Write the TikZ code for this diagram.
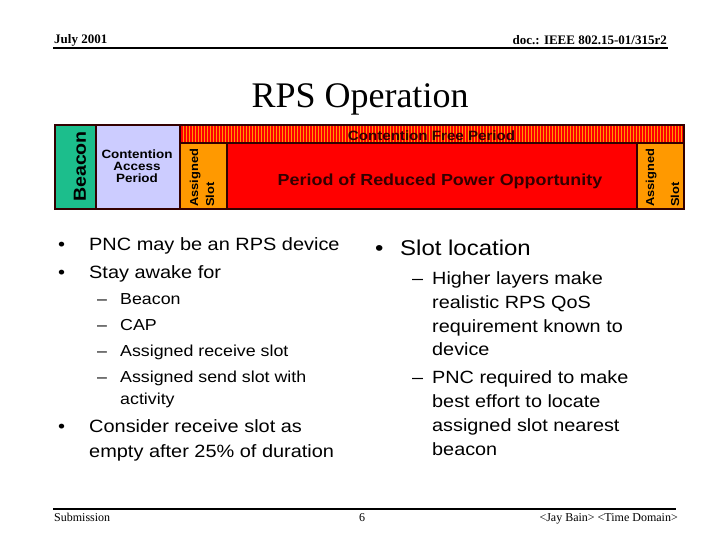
\documentclass[tikz,border=0pt]{standalone}
\usepackage{fontspec}
\setmainfont{Liberation Serif}
\newfontfamily\arialx[FakeStretch=1.12]{Liberation Sans}
\definecolor{beaconc}{RGB}{28,190,140}
\definecolor{capc}{RGB}{204,204,255}
\definecolor{orangec}{RGB}{255,153,0}
\definecolor{redc}{RGB}{255,0,0}
\definecolor{borderc}{RGB}{51,0,0}
\begin{document}
\begin{tikzpicture}[x=1pt,y=-1pt,
  hdr/.style={font=\fontsize{13}{15}\selectfont\bfseries, inner sep=0},
  ftr/.style={font=\fontsize{12}{14}\selectfont, inner sep=0},
  bd/.style={draw=borderc, line width=1.5},
  rot/.style={rotate=90, anchor=base west, inner sep=0, font=\arialx\bfseries\fontsize{11.5}{13}\selectfont},
  capt/.style={anchor=base, inner sep=0, font=\arialx\bfseries\fontsize{12}{13}\selectfont},
  lm/.style={anchor=base west, inner sep=0, font=\arialx\fontsize{17.8}{20}\selectfont},
  ls/.style={anchor=base west, inner sep=0, font=\arialx\fontsize{15.9}{18}\selectfont},
  rm/.style={anchor=base west, inner sep=0, font=\arialx\fontsize{21.4}{24}\selectfont},
  rs/.style={anchor=base west, inner sep=0, font=\arialx\fontsize{17.7}{20}\selectfont}]
\useasboundingbox (0,0) rectangle (720,540);

% header
\node[hdr, anchor=base west] (date) at (54,44) {July 2001};
\node[hdr, anchor=base east] (doc) at (667,45) {doc.: IEEE 802.15-01/315r2};
\draw[line width=2] (53,48.5) -- (668,48.5);
\node[font=\fontsize{36}{40}\selectfont, anchor=base, inner sep=0] (title) at (360,108) {RPS Operation};

% superframe bar
\fill[beaconc] (55,125) rectangle (96,209);
\fill[capc] (96,125) rectangle (180,209);
\fill[orangec] (180,125) rectangle (684,143);
\foreach \i in {0,...,167} \fill[redc] ({181+3*\i},125) rectangle ++(1.5,18);
\fill[orangec] (180,143) rectangle (227,209);
\fill[redc] (227,143) rectangle (637,209);
\fill[orangec] (637,143) rectangle (684,209);
\draw[bd] (55,125) rectangle (684,209);
\draw[bd] (96,125) -- (96,209);
\draw[bd] (180,125) -- (180,209);
\draw[bd] (180,143) -- (684,143);
\draw[bd] (227,143) -- (227,209);
\draw[bd] (637,143) -- (637,209);

\node[rotate=90, inner sep=0, font=\arialx\bfseries\fontsize{17.5}{19}\selectfont] (beacon) at (80,166.5) {Beacon};
\node[capt] (cap1) at (137,158.5) {Contention};
\node[capt] (cap2) at (137,170.5) {Access};
\node[capt] (cap3) at (137,182.5) {Period};
\node[rot] (asl1) at (198,207) {Assigned};
\node[rot] (asl2) at (214,207) {Slot};
\node[rot] (asr1) at (654,207) {Assigned};
\node[rot] (asr2) at (679,207) {Slot};
\node[anchor=base, inner sep=0, text=borderc, font=\arialx\bfseries\fontsize{13.5}{15}\selectfont] (cfp) at (431.5,140.5) {Contention Free Period};
\node[anchor=base, inner sep=0, text=borderc, font=\arialx\bfseries\fontsize{16}{18}\selectfont] (prpo) at (440,186) {Period of Reduced Power Opportunity};

% left column
\node[lm] (b1) at (58,250.5) {•};
\node[lm] (t1) at (89,250.5) {PNC may be an RPS device};
\node[lm] (b2) at (58,278) {•};
\node[lm] (t2) at (89,278) {Stay awake for};
\node[ls] (d1) at (97,304.7) {–};
\node[ls] (s1) at (120,304.7) {Beacon};
\node[ls] (d2) at (97,330.7) {–};
\node[ls] (s2) at (120,330.7) {CAP};
\node[ls] (d3) at (97,356.7) {–};
\node[ls] (s3) at (120,356.7) {Assigned receive slot};
\node[ls] (d4) at (97,382.7) {–};
\node[ls] (s4) at (120,382.7) {Assigned send slot with};
\node[ls] (s4b) at (120,404.5) {activity};
\node[lm] (b3) at (58,432) {•};
\node[lm] (t3) at (89,432) {Consider receive slot as};
\node[lm] (t3b) at (89,457) {empty after 25\% of duration};

% right column
\node[rm] (rb1) at (375,255.5) {•};
\node[rm] (rt1) at (400,255.5) {Slot location};
\node[rs] (rd1) at (412,284) {–};
\node[rs] (r1) at (432,284) {Higher layers make};
\node[rs] (r2) at (432,308) {realistic RPS QoS};
\node[rs] (r3) at (432,332) {requirement known to};
\node[rs] (r4) at (432,355) {device};
\node[rs] (rd2) at (412,383) {–};
\node[rs] (r5) at (432,383) {PNC required to make};
\node[rs] (r6) at (432,407) {best effort to locate};
\node[rs] (r7) at (432,431) {assigned slot nearest};
\node[rs] (r8) at (432,455) {beacon};

% footer
\draw[line width=2] (53,509) -- (676,509);
\node[ftr, anchor=base west] (sub) at (54,521) {Submission};
\node[ftr, anchor=base] (page) at (362,521) {6};
\node[ftr, anchor=base east] (auth) at (678,521) {<Jay Bain> <Time Domain>};
\end{tikzpicture}
\end{document}
